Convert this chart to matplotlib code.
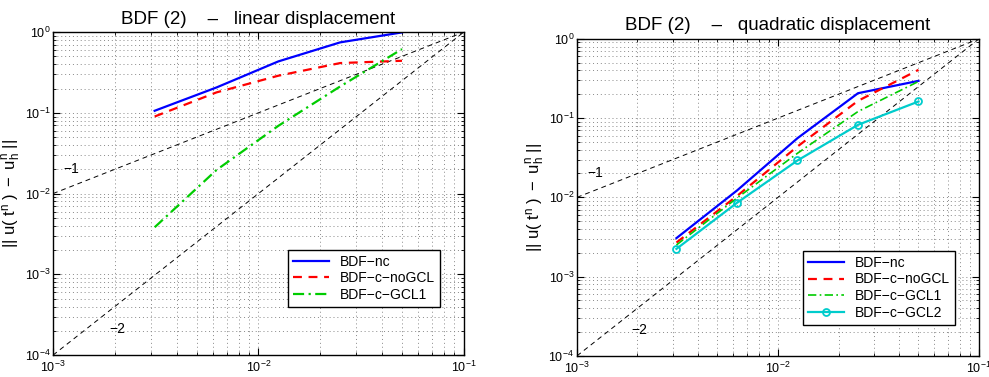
import numpy as np
import matplotlib
matplotlib.use("Agg")
import matplotlib.pyplot as plt
from matplotlib.ticker import LogLocator, NullFormatter

plt.rcParams['font.family'] = ['Liberation Sans', 'DejaVu Sans']
plt.rcParams['mathtext.fontset'] = 'custom'
plt.rcParams['mathtext.rm'] = 'Liberation Sans'
plt.rcParams['mathtext.it'] = 'Liberation Sans'
plt.rcParams['mathtext.default'] = 'regular'

# data
h = [0.003125, 0.00625, 0.0125, 0.025, 0.05]

lin_nc = [0.106, 0.206, 0.433, 0.745, 0.99]
lin_nogcl = [0.090, 0.179, 0.288, 0.413, 0.441]
lin_gcl1 = [0.00383, 0.0196, 0.069, 0.212, 0.615]

quad_nc = [0.00306, 0.0122, 0.0558, 0.206, 0.295]
quad_nogcl = [0.00269, 0.0104, 0.0438, 0.165, 0.406]
quad_gcl1 = [0.00251, 0.0098, 0.036, 0.121, 0.29]
quad_gcl2 = [0.00224, 0.00853, 0.0292, 0.0822, 0.162]

ref_x = [1e-3, 1e-1]
ref1_y = [1e-2, 1.0]   # slope 1
ref2_y = [1e-4, 1.0]   # slope 2

fig = plt.figure(figsize=(9.89, 3.77), dpi=100)
axL = fig.add_axes([0.0536, 0.058, 0.4154, 0.857])
axR = fig.add_axes([0.5834, 0.056, 0.4065, 0.841])


def style(ax):
    ax.set_xscale('log')
    ax.set_yscale('log')
    ax.set_xlim(1e-3, 1e-1)
    ax.set_ylim(1e-4, 1.0)
    ax.xaxis.set_major_locator(LogLocator(base=10, numticks=10))
    ax.yaxis.set_major_locator(LogLocator(base=10, numticks=10))
    ax.xaxis.set_minor_locator(LogLocator(base=10, subs=np.arange(2, 10), numticks=10))
    ax.yaxis.set_minor_locator(LogLocator(base=10, subs=np.arange(2, 10), numticks=10))
    ax.xaxis.set_minor_formatter(NullFormatter())
    ax.yaxis.set_minor_formatter(NullFormatter())
    ax.grid(True, which='both', linestyle=(0, (1, 3)), color='#888888', linewidth=0.7)
    ax.tick_params(which='both', direction='in', top=True, right=True, labelsize=9)
    ax.tick_params(which='major', length=5, width=0.8)
    ax.tick_params(which='minor', length=2.5, width=0.6)
    ax.tick_params(axis='x', which='major', pad=3.5)
    ax.tick_params(axis='y', which='major', pad=2)
    for s in ax.spines.values():
        s.set_linewidth(1.0)
        s.set_color('black')
    ax.set_ylabel(r'$||\ u(\ t^{n}\ )\ -\ u_{h}^{n}\ ||$', fontsize=12, labelpad=1)
    ax.plot(ref_x, ref1_y, color='black', linestyle=(0, (5, 4)), linewidth=0.7)
    ax.plot(ref_x, ref2_y, color='black', linestyle=(0, (5, 4)), linewidth=0.7)
    ax.text(0.00123, 0.02, '\u22121', fontsize=10, ha='center', va='center')
    ax.text(0.00205, 2.1e-4, '\u22122', fontsize=10, ha='center', va='center')
    ax.set_axisbelow(True)


style(axL)
axL.plot(h, lin_nc, color='#0000ff', linewidth=1.6, label='BDF\u2212nc')
axL.plot(h, lin_nogcl, color='#ff0000', linestyle=(0, (4, 3)), linewidth=1.6, label='BDF\u2212c\u2212noGCL')
axL.plot(h, lin_gcl1, color='#00cc00', linestyle=(0, (5, 2, 1, 2)), linewidth=1.6, label='BDF\u2212c\u2212GCL1')
axL.set_title('BDF (2)    \u2013   linear displacement', fontsize=13.5, pad=6)
legL = axL.legend(loc='lower left', bbox_to_anchor=(0.572, 0.149), fontsize=10,
                  fancybox=False, edgecolor='black', framealpha=1, borderpad=0.35,
                  labelspacing=0.2, handlelength=2.6, borderaxespad=0)
legL.get_frame().set_linewidth(1.0)

style(axR)
axR.plot(h, quad_nc, color='#0000ff', linewidth=1.6, label='BDF\u2212nc')
axR.plot(h, quad_nogcl, color='#ff0000', linestyle=(0, (4, 3)), linewidth=1.6, label='BDF\u2212c\u2212noGCL')
axR.plot(h, quad_gcl1, color='#00cc00', linestyle=(0, (5, 2, 1, 2)), linewidth=1.2, label='BDF\u2212c\u2212GCL1')
axR.plot(h, quad_gcl2, color='#00cccc', linestyle='-', linewidth=1.6, marker='o',
         markersize=5, markerfacecolor='none', markeredgewidth=1.3, label='BDF\u2212c\u2212GCL2')
axR.set_title('BDF (2)    \u2013   quadratic displacement', fontsize=13.5, pad=6)
legR = axR.legend(loc='lower left', bbox_to_anchor=(0.562, 0.098), fontsize=10,
                  fancybox=False, edgecolor='black', framealpha=1, borderpad=0.35,
                  labelspacing=0.2, handlelength=2.6, borderaxespad=0)
legR.get_frame().set_linewidth(1.0)

fig.savefig('out.png', dpi=100)
